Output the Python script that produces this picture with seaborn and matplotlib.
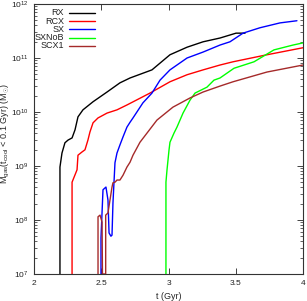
import numpy as np
import pandas as pd
import matplotlib
matplotlib.use("Agg")
import matplotlib.pyplot as plt
import seaborn as sns

# cold-gas mass (t_cool < 0.1 Gyr) vs time
rx_t = [2.193, 2.193, 2.208, 2.230, 2.253, 2.283, 2.305, 2.327, 2.364, 2.439, 2.543,
        2.639, 2.714, 2.877, 3.011, 3.138, 3.257, 3.383, 3.502, 3.569]
rx_logm = [7.0, 8.98, 9.24, 9.43, 9.48, 9.52, 9.67, 9.91, 10.04, 10.19, 10.37,
           10.54, 10.63, 10.78, 11.06, 11.20, 11.30, 11.37, 11.46, 11.46]

rcx_t = [2.283, 2.283, 2.320, 2.327, 2.357, 2.379, 2.401, 2.416, 2.439, 2.476, 2.543,
         2.617, 2.691, 2.862, 3.011, 3.138, 3.257, 3.383, 3.480, 3.732, 4.0]
rcx_logm = [7.0, 8.70, 8.93, 9.20, 9.26, 9.30, 9.48, 9.63, 9.80, 9.89, 9.98,
            10.04, 10.13, 10.35, 10.56, 10.69, 10.78, 10.87, 10.93, 11.06, 11.19]

sx_t = [2.498, 2.498, 2.513, 2.535, 2.550, 2.558, 2.572, 2.580, 2.587, 2.602, 2.617,
        2.639, 2.662, 2.691, 2.714, 2.736, 2.810, 2.877, 2.937, 3.011, 3.138, 3.257,
        3.383, 3.457, 3.554, 3.680, 3.829, 3.955]
sx_logm = [7.0, 7.67, 8.56, 8.61, 8.37, 7.76, 7.70, 7.72, 8.31, 9.06, 9.24,
           9.39, 9.54, 9.72, 9.81, 9.89, 10.17, 10.35, 10.59, 10.78, 11.00, 11.11,
           11.24, 11.30, 11.46, 11.56, 11.65, 11.69]

sxnob_t = [2.981, 2.981, 2.989, 3.004, 3.011, 3.041, 3.063, 3.108, 3.160, 3.197,
           3.286, 3.338, 3.383, 3.487, 3.636, 3.784, 3.926, 4.0]
sxnob_logm = [7.0, 8.70, 8.93, 9.30, 9.44, 9.61, 9.72, 9.98, 10.22, 10.35,
              10.46, 10.59, 10.63, 10.81, 10.93, 11.15, 11.24, 11.28]

scx1_t = [2.476, 2.476, 2.491, 2.506, 2.509, 2.533, 2.533, 2.550, 2.580, 2.587, 2.602,
          2.617, 2.639, 2.662, 2.691, 2.714, 2.736, 2.788, 2.914, 3.033, 3.160, 3.257,
          3.383, 3.480, 3.732, 4.0]
scx1_logm = [7.0, 8.06, 8.09, 7.96, 7.0, 7.0, 8.09, 8.13, 8.61, 8.69, 8.70,
             8.74, 8.74, 8.83, 8.98, 9.07, 9.20, 9.44, 9.85, 10.09, 10.26, 10.37,
             10.48, 10.56, 10.74, 10.87]

runs = ["RX", "RCX", "SX", "SXNoB", "SCX1"]
colors = {"RX": "#000000", "RCX": "#ff0000", "SX": "#0000ff",
          "SXNoB": "#00ff00", "SCX1": "#a52a2a"}
series = {"RX": (rx_t, rx_logm), "RCX": (rcx_t, rcx_logm), "SX": (sx_t, sx_logm),
          "SXNoB": (sxnob_t, sxnob_logm), "SCX1": (scx1_t, scx1_logm)}

frames = []
for name in runs:
    t, lm = series[name]
    frames.append(pd.DataFrame({"t": t, "mgas": 10.0 ** np.array(lm), "run": name}))
df = pd.concat(frames, ignore_index=True)

sns.set_style("ticks")
plt.rcParams["font.family"] = ["Liberation Sans", "DejaVu Sans"]
plt.rcParams["mathtext.fontset"] = "custom"
plt.rcParams["mathtext.rm"] = "Liberation Sans"
plt.rcParams["mathtext.it"] = "Liberation Sans:italic"

fig = plt.figure(figsize=(3.07, 3.01), dpi=100)
ax = fig.add_axes([34 / 307, 1 - 274 / 301, 269 / 307, 270 / 301])

for name in runs:
    sub = df[df["run"] == name]
    sns.lineplot(data=sub, x="t", y="mgas", ax=ax, color=colors[name], lw=1.0,
                 sort=False, estimator=None, legend=False)

ax.set_yscale("log")
ax.set_xlim(2, 4)
ax.set_ylim(1e7, 1e12)
ax.set_xticks([2, 2.5, 3, 3.5, 4])
ax.set_xticklabels(["2", "2.5", "3", "3.5", "4"])
ax.tick_params(which="both", direction="in", top=True, right=True,
               labelsize=6, colors="#222222", pad=4)
ax.tick_params(which="major", length=4, width=0.6)
ax.tick_params(which="minor", length=2, width=0.5)
for sp in ax.spines.values():
    sp.set_linewidth(0.8)
    sp.set_color("#333333")

ax.set_xlabel("t (Gyr)", fontsize=6.5)
ax.xaxis.set_label_coords(0.5, -0.066)
ax.set_ylabel(r"M$_{\rm gas}$(t$_{\rm cool}$ < 0.1 Gyr) (M$_{\odot}$)", fontsize=6.5)
ax.yaxis.set_label_coords(-0.080, 0.52)

# gnuplot-style key: right-aligned labels followed by line samples
y0 = 0.967
dy = 0.0305
for i, name in enumerate(runs):
    yy = y0 - i * dy
    ax.text(0.112, yy, name, transform=ax.transAxes, ha="right", va="center",
            fontsize=6.5, color="#222222")
    ax.plot([0.130, 0.227], [yy, yy], transform=ax.transAxes,
            color=colors[name], lw=1.0)

fig.savefig("out.png", dpi=100)
